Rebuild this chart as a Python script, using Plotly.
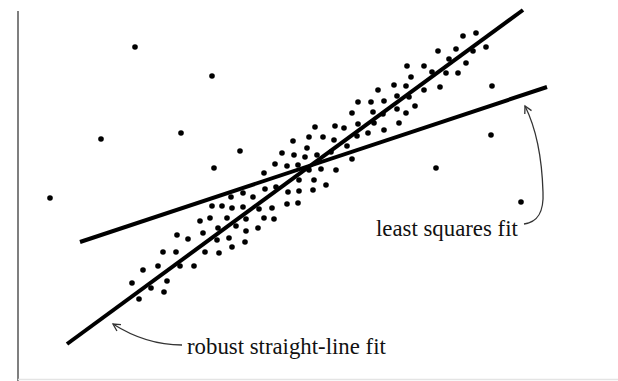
import numpy as np
import plotly.graph_objects as go

# Scatter points (x, y)
x_pts = [
    11.7, 19.4, 8.3, 16.3, 3.2, 22.2, 19.6, 47.4, 47.3, 41.8, 50.3,
    44.5, 45.8, 46.8, 45.5, 43.8, 42.0, 43.1, 44.8, 44.0, 42.8, 41.4, 40.6,
    38.9, 39.3, 42.2, 40.6, 38.8, 37.6, 36.0, 37.9, 39.1, 39.7, 38.8, 37.9,
    38.1, 36.6, 35.3, 34.0, 33.4, 35.5, 36.5, 35.6, 34.0, 35.0, 33.9, 36.6,
    32.6, 31.7, 29.7, 31.6, 30.5, 29.1, 28.9, 32.9, 28.7, 29.9, 31.3, 33.4,
    27.5, 26.4, 27.6, 25.7, 26.9, 28.0, 29.1, 30.3, 31.8, 24.6, 28.1, 29.6,
    30.8, 29.5, 25.8, 27.0, 28.1, 24.7, 22.5, 21.3, 23.5, 19.4, 20.4, 21.4,
    22.5, 24.1, 25.4, 26.9, 28.0, 18.2, 19.2, 20.9, 22.8, 24.6, 25.6, 18.5,
    20.0, 21.8, 22.8, 24.0, 19.9, 21.1, 22.7, 21.4,
    15.9, 17.0, 18.7, 20.1, 14.5, 15.8, 12.5, 14.0, 16.2, 17.6, 11.4, 13.3,
    14.9, 14.6, 12.1,
]
y_pts = [
    33.4, 30.5, 24.2, 24.8, 18.3, 23.0, 21.3, 29.5, 24.6, 21.3, 17.9,
    34.5, 34.8, 33.4, 33.0, 33.2, 33.0, 32.2, 31.8, 30.8, 30.8, 30.9, 31.5,
    31.5, 30.4, 29.4, 29.1, 29.5, 29.6, 29.1, 28.5, 28.4, 27.5, 26.8, 27.2,
    25.8, 28.0, 27.9, 27.9, 26.8, 26.9, 26.7, 25.8, 25.7, 24.8, 24.5, 25.1,
    25.3, 25.5, 25.4, 24.1, 24.4, 24.4, 23.3, 23.5, 22.4, 22.6, 22.9, 22.2,
    24.0, 22.8, 22.6, 21.7, 21.5, 21.6, 21.1, 21.2, 21.1, 20.8, 20.1, 20.1,
    19.6, 19.1, 19.4, 18.9, 19.0, 19.2, 18.8, 18.4, 18.4, 17.5, 17.5, 17.3,
    17.4, 17.2, 17.3, 17.7, 17.8, 16.0, 16.3, 16.3, 16.2, 16.3, 16.2, 14.8,
    15.3, 15.5, 15.0, 15.3, 14.1, 14.3, 13.9, 13.4,
    14.6, 14.2, 12.9, 12.8, 12.9, 12.9, 11.1, 11.5, 11.5, 11.5, 9.8, 9.3,
    10.0, 8.9, 8.2,
]

# Fitted lines (end points)
robust_x = [4.9, 50.5]
robust_y = [3.7, 37.1]
lsq_x = [6.2, 52.9]
lsq_y = [13.9, 29.4]

# Labels
labels = ["least squares fit", "robust straight-line fit"]
label_x = [42.9, 26.85]
label_y = [15.3, 3.5]

# Curved leader paths (cubic Bezier control points) ending at the arrow tips
leaders = [
    [(50.6, 15.7), (52.0, 15.9), (52.6, 16.9), (52.5, 18.9),
     (52.4, 22.1), (51.9, 25.1), (50.7, 27.5)],
    [(16.4, 3.6), (14.2, 3.6), (11.7, 4.3), (9.5, 5.7)],
]

X_RANGE = [-1.8, 60.0]
Y_RANGE = [0.0, 38.1]

fig = go.Figure()

fig.add_trace(go.Scatter(
    x=x_pts, y=y_pts, mode="markers",
    marker=dict(size=5.6, color="black", line=dict(width=0)),
    hoverinfo="skip", showlegend=False,
))
for lx, ly in ((robust_x, robust_y), (lsq_x, lsq_y)):
    fig.add_trace(go.Scatter(
        x=lx, y=ly, mode="lines",
        line=dict(color="black", width=4),
        hoverinfo="skip", showlegend=False,
    ))

shapes = []
lead_color = "#333333"
for pts in leaders:
    d = "M {},{}".format(*pts[0])
    for i in range(1, len(pts), 3):
        c1, c2, p = pts[i], pts[i + 1], pts[i + 2]
        d += " C {},{} {},{} {},{}".format(*c1, *c2, *p)
    shapes.append(dict(type="path", path=d, xref="x", yref="y",
                       line=dict(color=lead_color, width=1.3)))
    # open arrowhead at the tip, aligned with the final tangent
    tip = np.array(pts[-1])
    prev = np.array(pts[-2])
    u = (tip - prev) / np.linalg.norm(tip - prev)
    size = 0.8
    wings = []
    for ang in (np.radians(28), -np.radians(28)):
        rot = np.array([[np.cos(ang), -np.sin(ang)], [np.sin(ang), np.cos(ang)]])
        wings.append(tip - size * rot.dot(u))
    ah = "M {},{} L {},{} L {},{}".format(*wings[0], *tip, *wings[1])
    shapes.append(dict(type="path", path=ah, xref="x", yref="y",
                       line=dict(color=lead_color, width=1.3)))

# Left axis rule and faint bottom edge
shapes.append(dict(type="line", xref="x", yref="y", x0=0, x1=0, y0=0, y1=37.0,
                   line=dict(color="#555555", width=1.5)))
shapes.append(dict(type="line", xref="paper", yref="paper", x0=0.029, x1=1,
                   y0=0.004, y1=0.004, line=dict(color="#e4e4e4", width=1.5)))

annotations = [
    dict(x=lx_, y=ly_, xref="x", yref="y", text=t, showarrow=False,
         xanchor="center", yanchor="middle",
         font=dict(family="Liberation Serif, Times New Roman, serif",
                   size=22.8, color="#111111"))
    for t, lx_, ly_ in zip(labels, label_x, label_y)
]

fig.update_layout(
    width=618, height=381,
    margin=dict(l=0, r=0, t=0, b=0),
    paper_bgcolor="white", plot_bgcolor="white",
    xaxis=dict(range=X_RANGE, visible=False, fixedrange=True),
    yaxis=dict(range=Y_RANGE, visible=False, fixedrange=True),
    shapes=shapes, annotations=annotations,
    showlegend=False,
)

fig.write_html("out.html", config={"displayModeBar": False})
